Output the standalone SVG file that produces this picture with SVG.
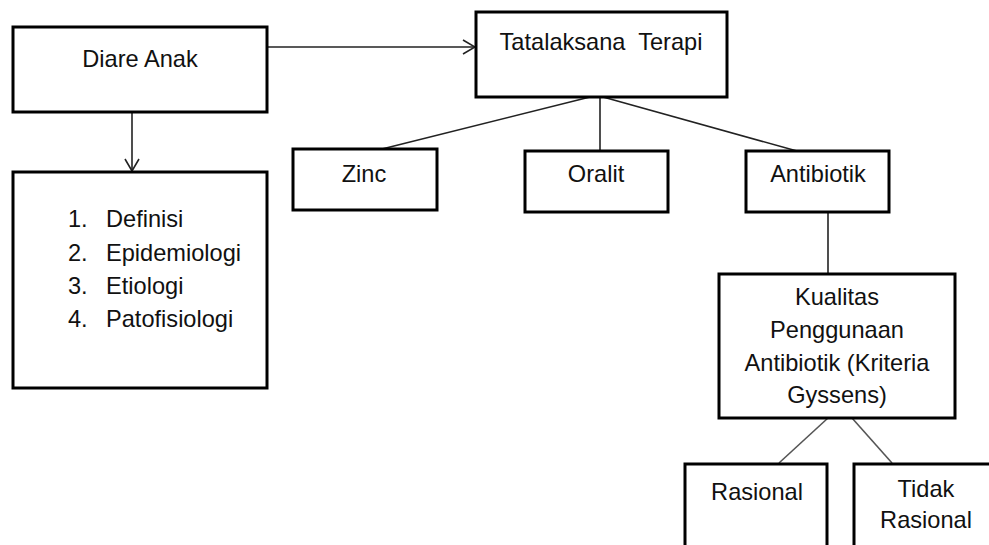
<svg xmlns="http://www.w3.org/2000/svg" width="989" height="545" viewBox="0 0 989 545">
<defs>
<style>
.box{fill:#fff;stroke:#000;stroke-width:3}
.t{font-family:"Liberation Sans",Arial,sans-serif;font-size:23.6px;fill:#111;text-anchor:middle}
.tl{font-family:"Liberation Sans",Arial,sans-serif;font-size:23.6px;fill:#111}
.c{stroke:#222;stroke-width:1.6;fill:none}
.g{stroke:#555;stroke-width:1.6;fill:none}
</style>
<marker id="arr" viewBox="0 0 14 16" refX="13" refY="8" markerWidth="14" markerHeight="16" markerUnits="userSpaceOnUse" orient="auto">
<path d="M1,1 L13,8 L1,15" fill="none" stroke="#222" stroke-width="1.6"/>
</marker>
</defs>
<rect width="989" height="545" fill="#fff"/>
<g id="connectors">
<line class="c" x1="267" y1="47" x2="475" y2="47" marker-end="url(#arr)"/>
<line class="c" x1="132" y1="112" x2="132" y2="171" marker-end="url(#arr)"/>
<line class="c" x1="590" y1="97" x2="382" y2="149"/>
<line class="c" x1="600" y1="97" x2="600" y2="151"/>
<line class="c" x1="603" y1="97" x2="797" y2="151"/>
<line class="c" x1="828" y1="212" x2="828" y2="273"/>
<line class="g" x1="828" y1="418" x2="779" y2="463"/>
<line class="g" x1="852" y1="418" x2="892" y2="463"/>
</g>
<g id="diare-anak">
<rect class="box" x="13" y="27" width="254" height="85"/>
<text class="t" x="140" y="67">Diare Anak</text>
</g>
<g id="daftar">
<rect class="box" x="13" y="172" width="254" height="216"/>
<text class="tl" y="227"><tspan x="68">1.</tspan><tspan x="106">Definisi</tspan></text>
<text class="tl" y="261"><tspan x="68">2.</tspan><tspan x="106">Epidemiologi</tspan></text>
<text class="tl" y="294"><tspan x="68">3.</tspan><tspan x="106">Etiologi</tspan></text>
<text class="tl" y="327"><tspan x="68">4.</tspan><tspan x="106">Patofisiologi</tspan></text>
</g>
<g id="tatalaksana">
<rect class="box" x="476" y="12" width="251" height="85"/>
<text class="t" x="601" y="50" xml:space="preserve">Tatalaksana  Terapi</text>
</g>
<g id="zinc">
<rect class="box" x="293" y="149" width="144" height="61"/>
<text class="t" x="364" y="182">Zinc</text>
</g>
<g id="oralit">
<rect class="box" x="525" y="151" width="143" height="61"/>
<text class="t" x="596" y="182">Oralit</text>
</g>
<g id="antibiotik">
<rect class="box" x="746" y="151" width="143" height="61"/>
<text class="t" x="818" y="182">Antibiotik</text>
</g>
<g id="kualitas">
<rect class="box" x="719" y="274" width="236" height="144"/>
<text class="t" x="837" y="305">Kualitas</text>
<text class="t" x="837" y="338">Penggunaan</text>
<text class="t" x="837" y="371">Antibiotik (Kriteria</text>
<text class="t" x="837" y="403">Gyssens)</text>
</g>
<g id="rasional">
<rect class="box" x="685" y="464" width="142" height="100"/>
<text class="t" x="757" y="500">Rasional</text>
</g>
<g id="tidak-rasional">
<rect class="box" x="854" y="464" width="160" height="100"/>
<text class="t" x="926" y="497">Tidak</text>
<text class="t" x="926" y="528">Rasional</text>
</g>
</svg>
